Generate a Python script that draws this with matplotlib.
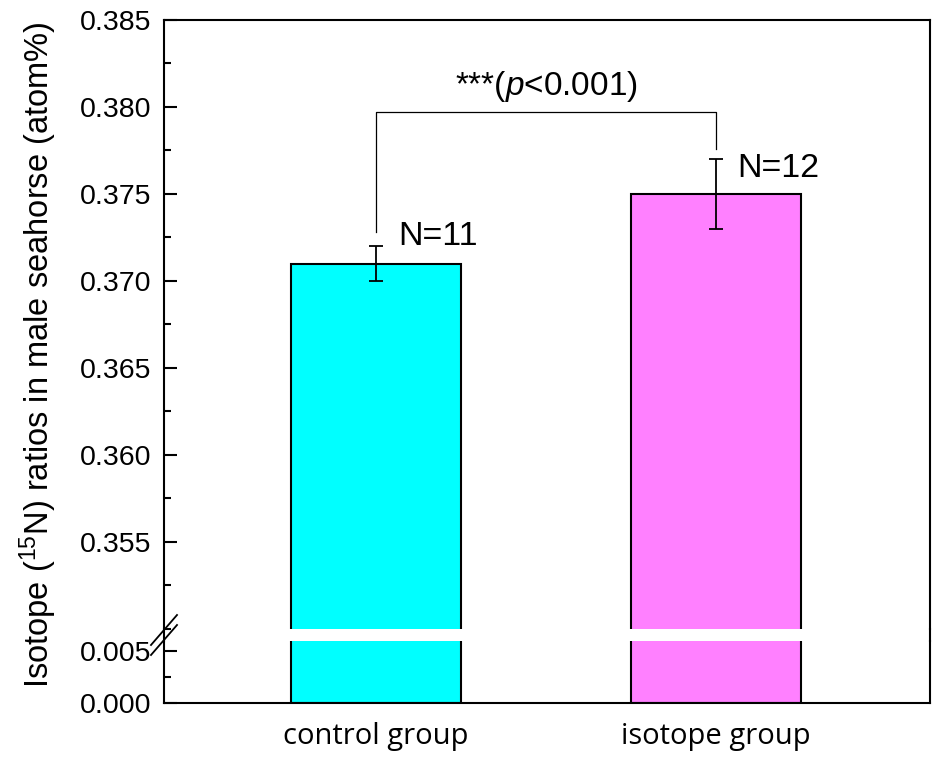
import matplotlib
matplotlib.use("Agg")
import matplotlib.pyplot as plt
from matplotlib.lines import Line2D
from matplotlib.ticker import MultipleLocator, FormatStrFormatter

plt.rcParams['font.family'] = ['Liberation Sans', 'DejaVu Sans']
plt.rcParams['mathtext.fontset'] = 'custom'
plt.rcParams['mathtext.rm'] = 'Liberation Sans'
plt.rcParams['mathtext.it'] = 'Liberation Sans:italic'

# ---- data ----
categories = ["control group", "isotope group"]
means = [0.371, 0.375]
errors = [0.001, 0.002]
n_labels = ["N=11", "N=12"]
colors = ["#00FFFF", "#FF80FF"]
bracket_top = 0.3797
bracket_ends = [0.3728, 0.3776]
sig_text = "***($\\mathit{p}$<0.001)"

W, H = 939, 758
fig = plt.figure(figsize=(W / 100, H / 100), dpi=100)

left_px, right_px = 164, 930
top_px, brk_top_px, brk_bot_px, bot_px = 20, 629, 641, 703

def fx(px):
    return px / W

def fy(py):
    return 1 - py / H

ax_up = fig.add_axes([fx(left_px), fy(brk_top_px), fx(right_px) - fx(left_px), fy(top_px) - fy(brk_top_px)])
ax_lo = fig.add_axes([fx(left_px), fy(bot_px), fx(right_px) - fx(left_px), fy(brk_bot_px) - fy(bot_px)], sharex=ax_up)

x = [1, 2]
for ax in (ax_up, ax_lo):
    ax.bar(x, means, width=0.5, color=colors, edgecolor="black", linewidth=1.5, zorder=2)
    ax.errorbar(x, means, yerr=errors, fmt="none", ecolor="black", elinewidth=1.3,
                capsize=5, capthick=1.3, zorder=3)
    for s in ax.spines.values():
        s.set_linewidth(1.5)

ax_up.set_xlim(0.376, 2.63)
ax_up.set_ylim(0.35, 0.385)
ax_lo.set_ylim(0.0, 0.006)

ax_up.spines['bottom'].set_visible(False)
ax_lo.spines['top'].set_visible(False)

ax_up.yaxis.set_major_locator(MultipleLocator(0.005))
ax_up.yaxis.set_minor_locator(MultipleLocator(0.0025))
ax_lo.yaxis.set_major_locator(MultipleLocator(0.005))
ax_lo.yaxis.set_minor_locator(MultipleLocator(0.0025))
for ax in (ax_up, ax_lo):
    ax.yaxis.set_major_formatter(FormatStrFormatter("%.3f"))
    ax.tick_params(axis='y', which='major', direction='in', length=9.5, width=1.5,
                   labelsize=20.5, pad=9, right=False)
    ax.tick_params(axis='y', which='minor', direction='in', length=5, width=1.5, right=False)

# hide 0.350 tick in the upper axes
ax_up.set_yticks([0.355, 0.36, 0.365, 0.37, 0.375, 0.38, 0.385])

ax_up.tick_params(axis='x', which='both', bottom=False, top=False, labelbottom=False)
ax_lo.set_xticks(x)
ax_lo.set_xticklabels(categories, fontfamily=['Open Sans', 'DejaVu Sans'])
ax_lo.tick_params(axis='x', which='major', direction='in', length=8, width=1.3,
                  labelsize=21, pad=14, top=False)
ax_lo.tick_params(axis='x', which='minor', bottom=False, top=False)

# continuous spines across the break
for xp in (left_px, right_px):
    fig.add_artist(Line2D([fx(xp), fx(xp)], [fy(brk_bot_px), fy(brk_top_px)],
                          color="black", linewidth=1.5, transform=fig.transFigure))

# break marks
for dy in (0, 10):
    fig.add_artist(Line2D([fx(151), fx(177)], [fy(645 + dy), fy(615 + dy)],
                          color="black", linewidth=1.3, transform=fig.transFigure))

# significance bracket
ax_up.plot([x[0], x[0], x[1], x[1]],
           [bracket_ends[0], bracket_top, bracket_top, bracket_ends[1]],
           color="black", linewidth=0.9, zorder=3)
ax_up.text((x[0] + x[1]) / 2, 0.38069, sig_text, ha="center", va="baseline", fontsize=24)

# N labels
n_pos_y = [0.37207, 0.37598]
for xi, ny, lab in zip(x, n_pos_y, n_labels):
    ax_up.text(xi + 0.064, ny, lab, ha="left", va="baseline", fontsize=24.5)

fig.text(fx(38), fy(355), "Isotope ($^{15}$N) ratios in male seahorse (atom%)",
         rotation=90, ha="center", va="center", fontsize=23.5)

fig.savefig("out.png", dpi=100)
